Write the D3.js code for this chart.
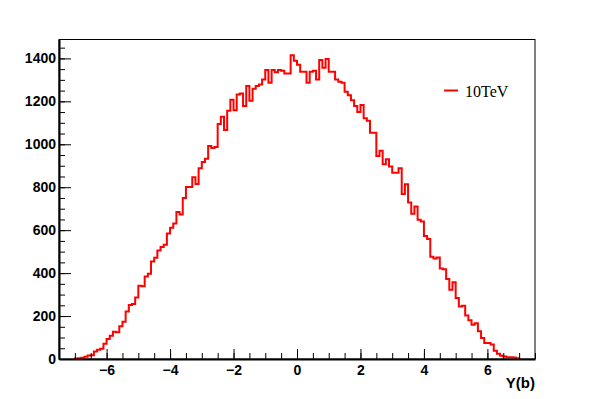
<!DOCTYPE html>
<html>
<head>
<meta charset="utf-8">
<script src="https://cdn.jsdelivr.net/npm/d3@7"></script>
<style>
  body { margin: 0; background: #fff; }
  .tick text { font-family: "Liberation Sans", Arial, sans-serif; font-weight: bold; font-size: 14px; fill: #000; }
  .axis path, .axis line { stroke: #000; }
</style>
</head>
<body>
<div class="chart"></div>
<script>
// histogram range and binning (bins of 0.1 from -7.5 to 7.5)
let xMin = -7.5;
let xMax = 7.5;
let binWidth = 0.1;
let firstBin = -7.0; // first non empty bin low edge

// entries per bin, from -7.0 to 6.9
let counts = [
  2, 4, 6, 10, 16, 18, 35, 43, 48, 71,
  93, 108, 127, 125, 152, 173, 221, 251, 256, 287,
  341, 339, 384, 397, 454, 471, 505, 522, 532, 584,
  611, 631, 685, 673, 750, 801, 801, 846, 815, 888,
  918, 933, 992, 983, 987, 1094, 1128, 1066, 1156, 1207,
  1159, 1232, 1237, 1178, 1271,
  1203, 1259, 1271, 1279, 1302, 1346, 1287, 1346, 1336, 1346,
  1343, 1330, 1330, 1415, 1389, 1370, 1338, 1338, 1287, 1338,
  1343, 1302, 1392, 1356, 1397, 1338, 1338, 1302, 1291, 1287,
  1245, 1228, 1205, 1178, 1150, 1183, 1121, 1110, 1054, 1054,
  946, 970, 907, 930, 896, 868, 868, 888,
  769, 814, 729, 677, 710, 648, 640, 573, 559, 476,
  468, 473, 422, 418, 373, 322, 358, 284, 245, 248,
  203, 180, 160, 167, 129, 98, 74, 74, 67, 39,
  25, 15, 12, 8, 8, 7, 3
];

let xMajor = [-6, -4, -2, 0, 2, 4, 6];
let yMajor = [0, 200, 400, 600, 800, 1000, 1200, 1400];
let yMax = 1488;

let seriesName = "10TeV";
let xTitle = "Y(b)";

//svg size
let svgW = 595;
let svgH = 399;

let margin = { top: 39.5, right: 60, bottom: 40, left: 59 };
let width = svgW - margin.left - margin.right;
let height = svgH - margin.top - margin.bottom;

let svg = d3.select(".chart")
  .append("svg")
  .attr("width", svgW)
  .attr("height", svgH);

let chartGroup = svg.append("g")
  .attr("transform", `translate(${margin.left}, ${margin.top})`);

let scaleX = d3.scaleLinear().domain([xMin, xMax]).range([0, width]);
let scaleY = d3.scaleLinear().domain([0, yMax]).range([height, 0]);

// frame (thin)
chartGroup.append("rect")
  .attr("x", 0)
  .attr("y", 0)
  .attr("width", width)
  .attr("height", height)
  .attr("fill", "none")
  .attr("stroke", "#000")
  .attr("stroke-width", 1);

// histogram outline as steps
let pts = [[scaleX(firstBin), scaleY(0)]];
counts.forEach(function(c, i) {
  let lo = firstBin + i * binWidth;
  pts.push([scaleX(lo), scaleY(c)]);
  pts.push([scaleX(lo + binWidth), scaleY(c)]);
});
pts.push([scaleX(firstBin + counts.length * binWidth), scaleY(0)]);

chartGroup.append("path")
  .attr("d", d3.line()(pts))
  .attr("fill", "none")
  .attr("stroke", "#ff0000")
  .attr("stroke-width", 2)
  .attr("stroke-linejoin", "miter");

// x axis: minor then major ticks, pointing inside
let xMinor = d3.range(xMin, xMax + 0.01, 0.5);
chartGroup.append("g")
  .classed("axis", true)
  .attr("transform", `translate(0, ${height})`)
  .call(d3.axisBottom(scaleX).tickValues(xMinor).tickSize(-6).tickFormat(""))
  .call(g => g.select(".domain").remove());

let xAxis = chartGroup.append("g")
  .classed("axis", true)
  .attr("transform", `translate(0, ${height})`)
  .call(d3.axisBottom(scaleX).tickValues(xMajor).tickSize(-10).tickPadding(5).tickSizeOuter(0));
xAxis.select(".domain").attr("stroke-width", 2);
xAxis.selectAll(".tick text").attr("dy", "0").attr("y", 16);

// y axis
let yMinor = d3.range(0, yMax, 50);
chartGroup.append("g")
  .classed("axis", true)
  .call(d3.axisLeft(scaleY).tickValues(yMinor).tickSize(-6).tickFormat(""))
  .call(g => g.select(".domain").remove());

let yAxis = chartGroup.append("g")
  .classed("axis", true)
  .call(d3.axisLeft(scaleY).tickValues(yMajor).tickSize(-12).tickPadding(3)
    .tickSizeOuter(0).tickFormat(d3.format("d")));
yAxis.select(".domain").attr("stroke-width", 2);
yAxis.selectAll(".tick text").attr("x", -3);

// x axis title
chartGroup.append("text")
  .attr("x", width)
  .attr("y", height + 29)
  .attr("text-anchor", "end")
  .style("font-family", "Liberation Sans, Arial, sans-serif")
  .style("font-weight", "bold")
  .style("font-size", "15px")
  .text(xTitle);

// legend
let legend = chartGroup.append("g")
  .attr("transform", `translate(${width - 91}, 51)`);

legend.append("line")
  .attr("x1", 0)
  .attr("x2", 14)
  .attr("y1", 0)
  .attr("y2", 0)
  .attr("stroke", "#ff0000")
  .attr("stroke-width", 2);

legend.append("text")
  .attr("x", 21)
  .attr("y", 6)
  .style("font-family", "Liberation Serif, Times New Roman, serif")
  .style("font-size", "16px")
  .text(seriesName);
</script>
</body>
</html>
